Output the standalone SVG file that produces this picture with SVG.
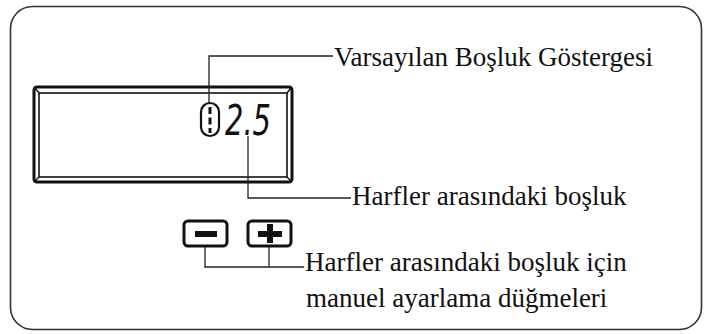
<svg xmlns="http://www.w3.org/2000/svg" width="710" height="334" viewBox="0 0 710 334">
<style>
.lbl{font-family:"Liberation Serif","Times New Roman",serif;font-size:27px;fill:#111}
.conn{fill:none;stroke:#222;stroke-width:1.3}
.frame{fill:none;stroke:#333;stroke-width:1.6}
.btn{fill:#fff;stroke:#111;stroke-width:3}
.seg{font-family:"DejaVu Sans","Liberation Sans",sans-serif;font-style:oblique;font-size:43px;fill:#111}
</style>
<rect width="710" height="334" fill="#fff"/>
<rect class="frame" x="10.5" y="6.5" width="691" height="323" rx="22"/>
<g id="lcd">
<rect x="34" y="87" width="258" height="95" rx="3" fill="#fff" stroke="#111" stroke-width="3"/>
<rect x="39" y="93" width="248" height="84" fill="none" stroke="#111" stroke-width="1.6"/>
<line x1="35" y1="88" x2="39" y2="93" stroke="#111" stroke-width="1.5"/>
<line x1="291" y1="88" x2="287" y2="93" stroke="#111" stroke-width="1.5"/>
<line x1="35" y1="181" x2="39" y2="177" stroke="#111" stroke-width="1.5"/>
<line x1="291" y1="181" x2="287" y2="177" stroke="#111" stroke-width="1.5"/>
<rect x="201" y="103" width="18" height="33" rx="9" fill="none" stroke="#111" stroke-width="2.2"/>
<line x1="210" y1="107" x2="210" y2="133" stroke="#111" stroke-width="3" stroke-dasharray="7,3.5"/>
<text class="seg" x="225" y="135" textLength="46" lengthAdjust="spacingAndGlyphs">2.5</text>
</g>
<g id="btn-minus">
<rect class="btn" x="184" y="221" width="43" height="25" rx="4"/>
<rect x="195" y="231" width="22" height="6" fill="#111"/>
</g>
<g id="btn-plus">
<rect class="btn" x="248" y="221" width="43" height="25" rx="4"/>
<rect x="258" y="231" width="24" height="6" fill="#111"/>
<rect x="267" y="224" width="6" height="19" fill="#111"/>
</g>
<g id="connectors">
<polyline class="conn" points="209,103 209,56 333,56"/>
<polyline class="conn" points="248,136 248,198 351,198"/>
<polyline class="conn" points="205,247 205,267 304,267"/>
<line class="conn" x1="269" y1="247" x2="269" y2="267"/>
</g>
<g id="labels">
<text class="lbl" x="334" y="66">Varsayılan Boşluk Göstergesi</text>
<text class="lbl" x="352" y="205">Harfler arasındaki boşluk</text>
<text class="lbl" x="305" y="271">Harfler arasındaki boşluk için</text>
<text class="lbl" x="306" y="307">manuel ayarlama düğmeleri</text>
</g>
</svg>
